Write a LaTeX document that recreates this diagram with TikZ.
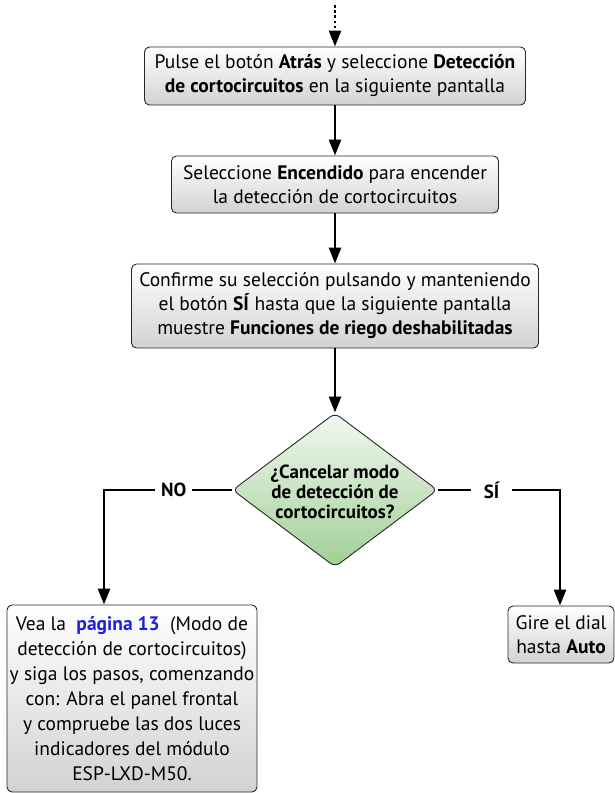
\documentclass[tikz,border=0pt]{standalone}
\usepackage{fontspec}
\setmainfont{PT Sans}
\usetikzlibrary{arrows.meta,shapes.geometric}

\definecolor{boxgray}{RGB}{210,210,210}
\definecolor{greentop}{RGB}{242,248,240}
\definecolor{greenbot}{RGB}{160,207,150}
\definecolor{linkblue}{RGB}{30,30,220}

\def\midX{335}
\def\flowWidth{2.6bp}
\def\leftX{104}
\def\rightX{560}

\tikzset{
  stepbox/.style={draw=black!85, line width=0.9bp, rounded corners=5bp,
    top color=white, bottom color=boxgray, align=center, inner sep=0pt,
    font=\fontsize{19.5bp}{24bp}\selectfont},
  choice/.style={diamond, draw=black!85, line width=0.9bp, rounded corners=6bp,
    top color=greentop, bottom color=greenbot, inner sep=0pt,
    minimum width=205bp, minimum height=154bp},
  choicetext/.style={align=center, inner sep=0pt,
    font=\bfseries\fontsize{19bp}{20bp}\selectfont},
  flow/.style={line width=\flowWidth, -{Triangle[width=12bp,length=16bp]}},
  answer/.style={fill=white, inner ysep=2bp, font=\bfseries\fontsize{19bp}{20bp}\selectfont}
}

\begin{document}
\begin{tikzpicture}[x=1bp,y=-1bp]
  \useasboundingbox (0,0) rectangle (615,793);

  \coordinate (start) at (\midX,5);
  \node[stepbox, minimum width=381bp, minimum height=58bp] (atras) at (\midX,76)
    {Pulse el botón \textbf{Atrás} y seleccione \textbf{Detección}\\
     \textbf{de cortocircuitos} en la siguiente pantalla};
  \node[stepbox, minimum width=327bp, minimum height=57bp] (encendido) at (\midX,184.5)
    {Seleccione \textbf{Encendido} para encender\\
     la detección de cortocircuitos};
  \node[stepbox, minimum width=407bp, minimum height=84bp] (confirme) at (\midX,306)
    {Confirme su selección pulsando y manteniendo\\
     el botón \textbf{SÍ} hasta que la siguiente pantalla\\
     muestre \textbf{Funciones de riego deshabilitadas}};
  \node[choice] (cancelar) at (\midX,490) {};
  \node[choicetext] (cancelartxt) at (\midX,492)
    {¿Cancelar modo\\ de detección de\\ cortocircuitos?};
  \node[stepbox, minimum width=250bp, minimum height=187bp,
        font=\fontsize{19.5bp}{25bp}\selectfont] (pagina) at (132,698.5)
    {Vea la \ \textcolor{linkblue}{\textbf{página 13}} \ (Modo de\\
     detección de cortocircuitos)\\
     y siga los pasos, comenzando\\
     con: Abra el panel frontal\\
     y compruebe las dos luces\\
     indicadores del módulo\\
     ESP-LXD-M50.};
  \node[stepbox, minimum width=106bp, minimum height=57bp] (auto) at (561,634.5)
    {Gire el dial\\ hasta \textbf{Auto}};

  % dotted lead-in
  \draw[flow, line width=2.6bp, dash pattern=on 2.6bp off 2.6bp] (start) -- (atras);

  \foreach \a/\b in {atras/encendido,encendido/confirme,confirme/cancelar} {
    \draw[flow] (\a) -- (\b);
  }

  \draw[flow] (cancelar.west) -| node[answer, pos=0.228, inner xsep=6bp] {NO} (pagina.north -| \leftX,0);
  \draw[flow] (cancelar.east) -| node[answer, pos=0.22, inner xsep=13bp] {SÍ} (auto.north -| \rightX,0);
\end{tikzpicture}
\end{document}
